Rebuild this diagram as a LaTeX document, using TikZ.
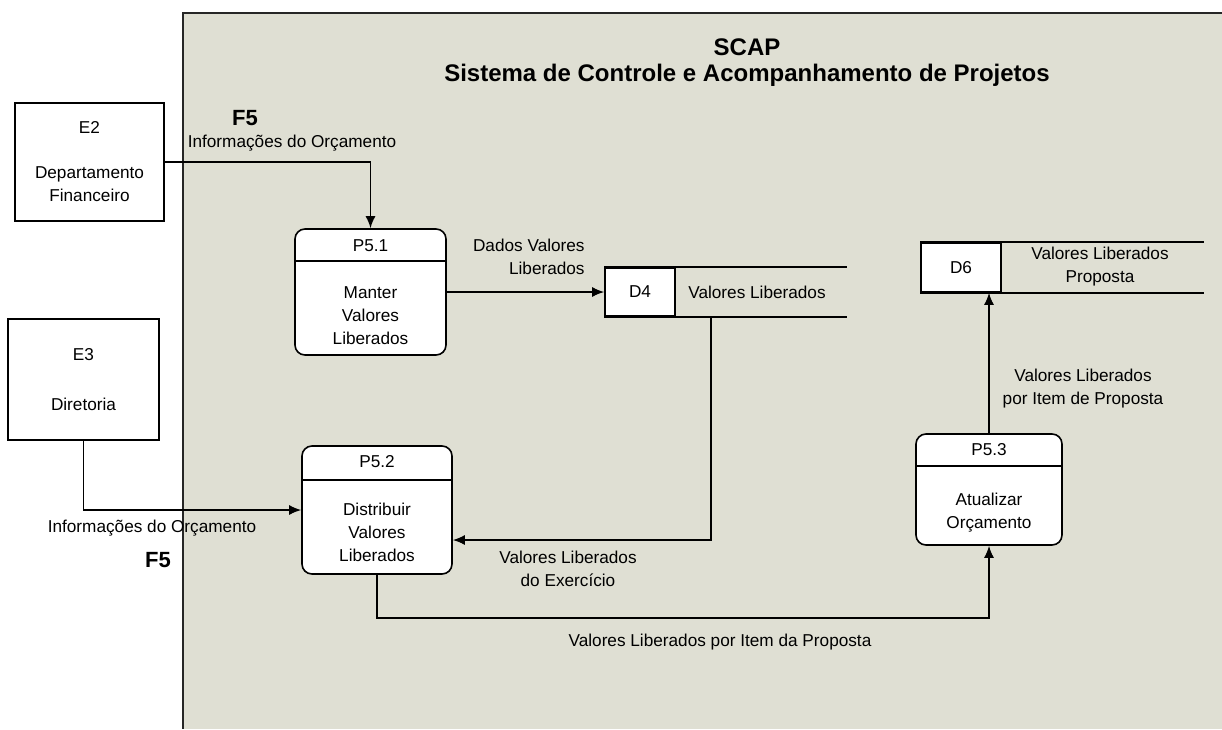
\documentclass[tikz,border=0pt]{standalone}
\usepackage{fontspec}
\setmainfont{Liberation Sans}
\usetikzlibrary{arrows.meta}
\definecolor{panelgrey}{RGB}{223,223,211}
\tikzset{
  entity/.style={draw, thick, fill=white, inner sep=0pt},
  proc/.style={draw, thick, fill=white, rounded corners=5pt, inner sep=0pt},
  storeid/.style={draw, thick, fill=white, inner sep=0pt, font=\fontsize{8.6}{11.5}\selectfont},
  flow/.style={thick, -{Latex[length=6pt,width=5pt]}},
  lbl/.style={font=\fontsize{8.6}{11.5}\selectfont, align=center, inner sep=1pt},
  flowid/.style={font=\bfseries\fontsize{11}{13}\selectfont, inner sep=0pt},
  title/.style={font=\bfseries\fontsize{12}{14}\selectfont, inner sep=0pt}
}

\begin{document}
\begin{tikzpicture}[x=0.5pt, y=-0.5pt]
	%%%%% START %%%%%
	\useasboundingbox (0,0) rectangle (1222,729);
	
	\fill[panelgrey] (183,13) rectangle (1222,729);
	\draw[thick, black!85] (1222,13) -- (183,13) -- (183,729);
	
	\node[title] (scap) at (747,47) {SCAP};
	\node[title] (scapname) at (747,75) {Sistema de Controle e Acompanhamento de Projetos};
	
	% external entities
	\node[entity, minimum width=74.5pt, minimum height=59pt] (e2) at (89.5,162) {};
	\node[lbl] (e2id) at (89.5,127) {E2};
	\node[lbl] (e2txt) at (89.5,184.5) {Departamento\\Financeiro};
	
	\node[entity, minimum width=75.5pt, minimum height=60.5pt] (e3) at (83.5,379.5) {};
	\node[lbl] (e3id) at (83.5,355) {E3};
	\node[lbl] (e3txt) at (83.5,404) {Diretoria};
	
	% processes
	\node[proc, minimum width=75.5pt, minimum height=63pt] (p51) at (370.5,292) {};
	\draw[thick] ([yshift=-16.5pt]p51.north west) -- ([yshift=-16.5pt]p51.north east);
	\node[lbl] (p51id) at (370.5,246) {P5.1};
	\node[lbl] (p51txt) at (370.5,315.5) {Manter\\Valores\\Liberados};
	
	\node[proc, minimum width=75pt, minimum height=64pt] (p52) at (377,510) {};
	\draw[thick] ([yshift=-17.5pt]p52.north west) -- ([yshift=-17.5pt]p52.north east);
	\node[lbl] (p52id) at (377,462) {P5.2};
	\node[lbl] (p52txt) at (377,532.5) {Distribuir\\Valores\\Liberados};
	
	\node[proc, minimum width=73pt, minimum height=55.5pt] (p53) at (989,489.5) {};
	\draw[thick] ([yshift=-16.5pt]p53.north west) -- ([yshift=-16.5pt]p53.north east);
	\node[lbl] (p53id) at (989,450) {P5.3};
	\node[lbl] (p53txt) at (989,512.5) {Atualizar\\Orçamento};
	
	% data stores
	\node[storeid, minimum width=35pt, minimum height=24pt] (d4) at (640,292) {D4};
	\draw[thick] (d4.north west) -- ++(243,0);
	\draw[thick] (d4.south west) -- ++(243,0);
	\node[lbl] (d4txt) at (757,292) {Valores Liberados};
	
	\node[storeid, minimum width=40pt, minimum height=24.5pt] (d6) at (961,267.5) {D6};
	\draw[thick] (d6.north west) -- ++(284,0);
	\draw[thick] (d6.south west) -- ++(284,0);
	\node[lbl] (d6txt) at (1100,267) {Valores Liberados\\Proposta};
	
	% flows
	\coordinate (d4out) at (711,316);
	\draw[flow] (e2.east) -| (p51.north);
	\draw[flow] (p51.east) -- (d4.west);
	\draw[flow] (d4out) |- ([yshift=-15pt]p52.east);
	\draw[flow] (e3.south) |- (p52.west);
	\draw[flow] (p52.south) -- ++(0,43) -| (p53.south);
	\draw[flow] (p53.north) -- (p53.north |- d6.south);
	
	\node[flowid] (f5a) at (245,118) {F5};
	\node[lbl] (f5atxt) at (292,143) {Informações do Orçamento};
	\node[lbl, align=right, anchor=east] (f1txt) at (587,257) {Dados Valores\\Liberados};
	\node[lbl] (f2txt) at (568,568.5) {Valores Liberados\\do Exercício};
	\node[lbl] (f5btxt) at (152,528) {Informações do Orçamento};
	\node[flowid] (f5b) at (158,560) {F5};
	\node[lbl] (f3txt) at (720,642) {Valores Liberados por Item da Proposta};
	\node[lbl] (f4txt) at (1083,388.5) {Valores Liberados\\por Item de Proposta};
	
	%%%%% END %%%%%
\end{tikzpicture}
\end{document}
